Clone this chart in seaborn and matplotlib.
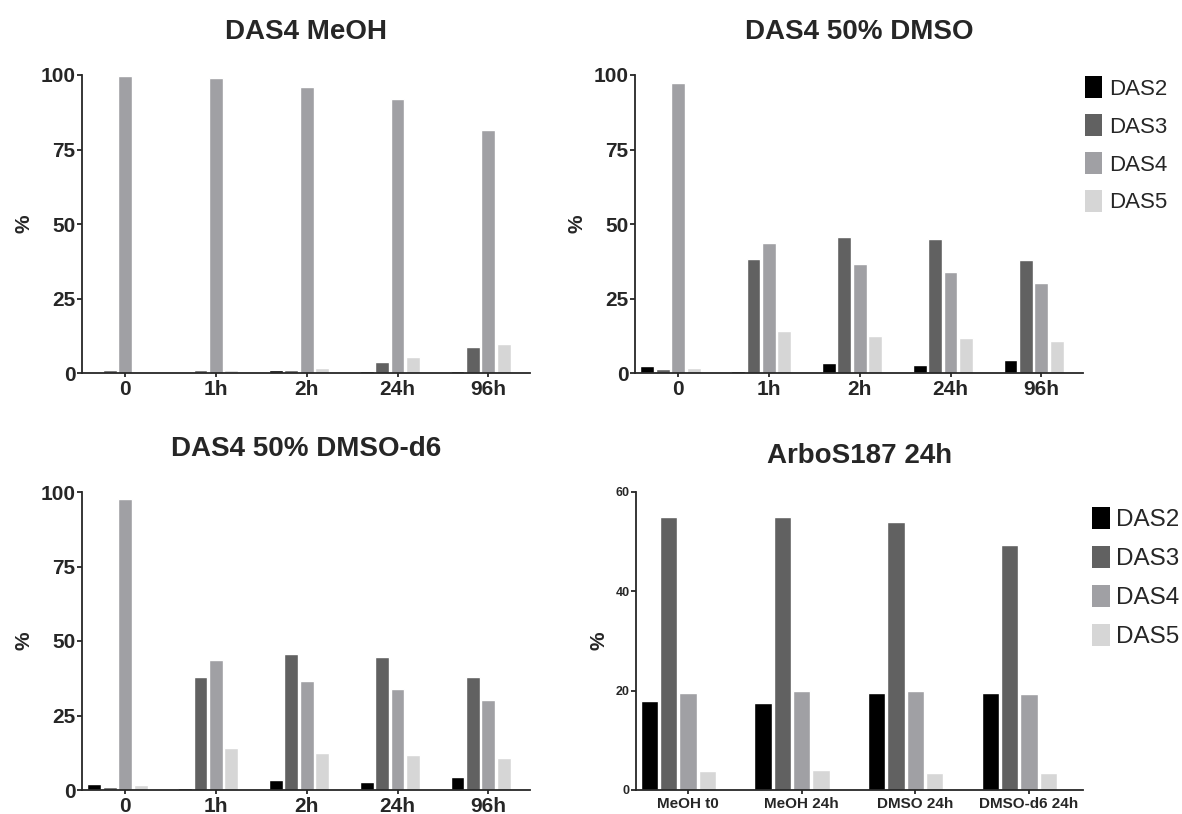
import numpy as np
import pandas as pd
import matplotlib
matplotlib.use("Agg")
import matplotlib.pyplot as plt
from matplotlib.patches import Patch
import seaborn as sns

# Categories
times = ["0", "1h", "2h", "24h", "96h"]
conditions = ["MeOH t0", "MeOH 24h", "DMSO 24h", "DMSO-d6 24h"]
species = ["DAS2", "DAS3", "DAS4", "DAS5"]

# DAS4 in MeOH (% of each species over time)
meoh_das2 = [0.0, 0.0, 1.1, 0.6, 0.6]
meoh_das3 = [1.1, 1.1, 1.1, 3.8, 8.6]
meoh_das4 = [99.7, 99.1, 95.9, 92.1, 81.4]
meoh_das5 = [0.4, 1.0, 1.6, 5.5, 9.7]

# DAS4 in 50% DMSO
dmso_das2 = [2.3, 0.8, 3.3, 2.8, 4.5]
dmso_das3 = [1.3, 38.4, 45.8, 44.8, 37.8]
dmso_das4 = [97.4, 43.6, 36.7, 34.0, 30.2]
dmso_das5 = [1.8, 14.1, 12.4, 11.9, 10.9]

# DAS4 in 50% DMSO-d6
dmsod6_das2 = [2.1, 0.6, 3.2, 2.7, 4.2]
dmsod6_das3 = [1.1, 37.8, 45.8, 44.7, 37.8]
dmsod6_das4 = [97.5, 43.7, 36.6, 34.0, 30.2]
dmsod6_das5 = [1.6, 14.0, 12.4, 11.8, 10.7]

# ArboS187 after 24 h in each solvent
arbo_das2 = [18.0, 17.6, 19.6, 19.6]
arbo_das3 = [55.0, 55.0, 53.9, 49.3]
arbo_das4 = [19.6, 19.9, 19.9, 19.3]
arbo_das5 = [3.8, 4.0, 3.4, 3.4]

colors = ["#000000", "#616161", "#a0a0a4", "#d6d6d6"]

sns.set_style("ticks")
plt.rcParams["font.family"] = ["Liberation Sans", "DejaVu Sans"]
plt.rcParams["axes.linewidth"] = 1.3

W, H = 1182, 814
fig = plt.figure(figsize=(W / 100, H / 100), dpi=100)

BAR_W = 0.68
TICK_SHIFT = BAR_W / 4 * 0.5  # tick sits under the third bar of each group


def long_frame(series, cats):
    rows = []
    for sp, vals in zip(species, series):
        for c, v in zip(cats, vals):
            rows.append({"cond": c, "species": sp, "pct": v})
    return pd.DataFrame(rows)


def px_axes(left, top, right, bottom):
    return fig.add_axes([left / W, 1 - bottom / H, (right - left) / W, (bottom - top) / H])


def panel(ax, series, cats, title, ylim, yticks, xlim, xfs, yfs, title_pad, ylabelpad):
    df = long_frame(series, cats)
    sns.barplot(data=df, x="cond", y="pct", hue="species", order=cats,
                hue_order=species, palette=dict(zip(species, colors)),
                width=BAR_W, gap=0.1, errorbar=None, saturation=1,
                legend=False, ax=ax)
    ax.set_xlim(*xlim)
    ax.set_ylim(*ylim)
    ax.set_yticks(yticks)
    ax.set_xticks(np.arange(len(cats)) + TICK_SHIFT, cats)
    ax.set_xlabel("")
    ax.set_ylabel("%", fontsize=15, fontweight="bold", labelpad=ylabelpad)
    ax.set_title(title, fontsize=20, fontweight="bold", pad=title_pad)
    ax.tick_params(axis="y", labelsize=yfs, length=3.6, width=1.3, pad=1)
    ax.tick_params(axis="x", labelsize=xfs, length=3, width=1.3, pad=2)
    for lab in ax.get_xticklabels() + ax.get_yticklabels():
        lab.set_fontweight("bold")
    sns.despine(ax=ax)


ax1 = px_axes(82, 75, 530, 373)
panel(ax1, [meoh_das2, meoh_das3, meoh_das4, meoh_das5], times, "DAS4 MeOH",
      (0, 100), [0, 25, 50, 75, 100], (-0.39, 4.544), 15, 15, 26, 5)

ax2 = px_axes(635, 75, 1083, 373)
panel(ax2, [dmso_das2, dmso_das3, dmso_das4, dmso_das5], times, "DAS4 50% DMSO",
      (0, 100), [0, 25, 50, 75, 100], (-0.39, 4.544), 15, 15, 26, 5)

ax3 = px_axes(82, 492, 530, 790)
panel(ax3, [dmsod6_das2, dmsod6_das3, dmsod6_das4, dmsod6_das5], times, "DAS4 50% DMSO-d6",
      (0, 100), [0, 25, 50, 75, 100], (-0.39, 4.544), 15, 15, 26, 5)

ax4 = px_axes(636, 492, 1083, 790)
panel(ax4, [arbo_das2, arbo_das3, arbo_das4, arbo_das5], conditions, "ArboS187 24h",
      (0, 60), [0, 20, 40, 60], (-0.373, 3.56), 11, 9, 21, 5)

handles = [Patch(facecolor=c, edgecolor="none") for c in colors]

fig.legend(handles, species, loc="upper left",
           bbox_to_anchor=(1085 / W, 1 - 76 / H), bbox_transform=fig.transFigure,
           frameon=False, borderpad=0, borderaxespad=0, fontsize=16,
           handlelength=0.77, handleheight=1.17, handletextpad=0.3, labelspacing=0.64)

fig.legend(handles, species, loc="upper left",
           bbox_to_anchor=(1092 / W, 1 - 507 / H), bbox_transform=fig.transFigure,
           frameon=False, borderpad=0, borderaxespad=0, fontsize=17.5,
           handlelength=0.74, handleheight=1.03, handletextpad=0.25, labelspacing=0.6)

fig.savefig("out.png", dpi=100)
